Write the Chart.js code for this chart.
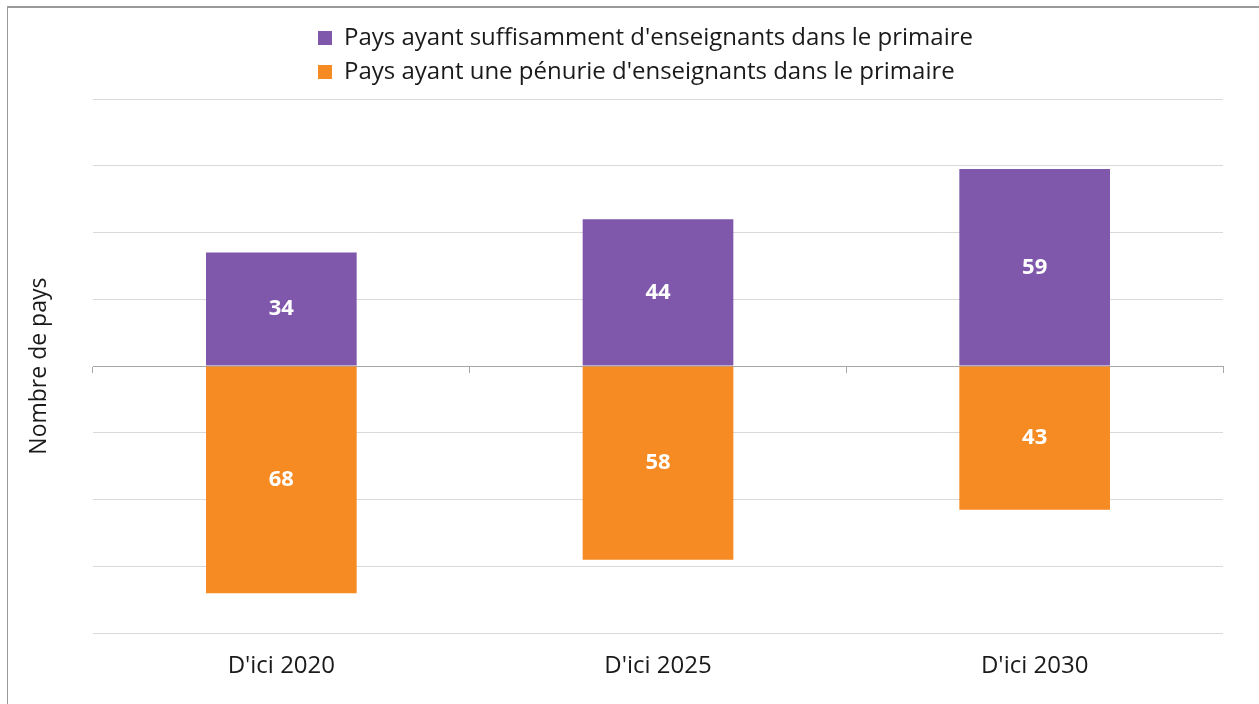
<!DOCTYPE html>
<html lang="fr">
<head>
<meta charset="utf-8">
<title>Nombre de pays</title>
<script src="https://cdn.jsdelivr.net/npm/chart.js@4.4.1/dist/chart.umd.min.js"></script>
<style>
  html, body { margin: 0; padding: 0; background: #fff; }
  #frame {
    position: absolute;
    left: 7px;
    top: 6px;
    width: 1300px;
    height: 760px;
    border-top: 2px solid #9a9a9a;
    border-left: 1px solid #9a9a9a;
  }
  #chart { position: absolute; left: 0; top: 0; }
</style>
</head>
<body>
<div id="frame"></div>
<canvas id="chart" width="1259" height="704"></canvas>
<script>
const YEARS = ["D'ici 2020", "D'ici 2025", "D'ici 2030"];
const ENOUGH = [34, 44, 59];
const SHORTAGE = [68, 58, 43];
const SERIES_LABELS = [
  "Pays ayant suffisamment d'enseignants dans le primaire",
  "Pays ayant une pénurie d'enseignants dans le primaire",
];
const Y_TITLE = 'Nombre de pays';

const PURPLE = '#7f58ab';
const ORANGE = '#f68a23';
const FONT = "'Open Sans', 'Noto Sans', sans-serif";

// white numbers in the middle of each bar
const barValueLabels = {
  id: 'barValueLabels',
  afterDatasetsDraw(chart) {
    const { ctx } = chart;
    ctx.save();
    ctx.fillStyle = '#ffffff';
    ctx.font = `bold 22px ${FONT}`;
    ctx.textAlign = 'center';
    ctx.textBaseline = 'middle';
    chart.data.datasets.forEach((dataset, i) => {
      chart.getDatasetMeta(i).data.forEach((bar, j) => {
        const { x, y, base } = bar.getProps(['x', 'y', 'base'], true);
        ctx.fillText(String(Math.abs(dataset.data[j])), x, (y + base) / 2);
      });
    });
    ctx.restore();
  },
};

// legend rows start at the same x, a bit up; the plot keeps its place
const legendShift = {
  id: 'legendShift',
  afterLayout(chart) {
    const lg = chart.legend;
    lg.top -= 5;
    lg.bottom -= 5;
    lg.left += 308;
    lg.right += 308;
  },
};

new Chart(document.getElementById('chart'), {
  type: 'bar',
  data: {
    labels: YEARS,
    datasets: [
      {
        label: SERIES_LABELS[0],
        data: ENOUGH,
        backgroundColor: PURPLE,
        xAxisID: 'x',
      },
      {
        label: SERIES_LABELS[1],
        data: SHORTAGE.map((v) => -v),
        backgroundColor: ORANGE,
        xAxisID: 'x',
      },
    ],
  },
  plugins: [barValueLabels, legendShift],
  options: {
    responsive: false,
    animation: false,
    layout: { padding: { top: 21, right: 36, bottom: 4, left: 0 } },
    datasets: {
      bar: { categoryPercentage: 1, barPercentage: 0.4 },
    },
    plugins: {
      tooltip: { enabled: false },
      legend: {
        position: 'top',
        align: 'start',
        labels: {
          boxWidth: 14,
          boxHeight: 14,
          padding: 10,
          color: '#1a1a1a',
          font: { family: FONT, size: 24 },
        },
      },
    },
    scales: {
      x: {
        stacked: true,
        grid: { display: false, drawTicks: false },
        border: { display: false },
        ticks: {
          padding: 19,
          color: '#1a1a1a',
          font: { family: FONT, size: 24 },
        },
      },
      x2: {
        type: 'category',
        axis: 'x',
        position: { y: 0 },
        offset: true,
        ticks: { display: false },
        grid: {
          drawOnChartArea: false,
          drawTicks: true,
          tickLength: 6,
          color: '#a6a6a6',
          offset: true,
        },
        border: { display: true, color: '#a6a6a6', width: 1 },
      },
      y: {
        stacked: true,
        min: -80,
        max: 80,
        ticks: { display: false, stepSize: 20 },
        grid: {
          drawTicks: false,
          color: (c) => (c.tick && c.tick.value === 0 ? '#a6a6a6' : '#d9d9d9'),
        },
        border: { display: false },
        title: {
          display: true,
          text: Y_TITLE,
          color: '#1a1a1a',
          font: { family: FONT, size: 23 },
          padding: { top: 26, bottom: 0 },
        },
        afterFit(scale) {
          scale.width = 93;
        },
      },
    },
  },
});
</script>
</body>
</html>
